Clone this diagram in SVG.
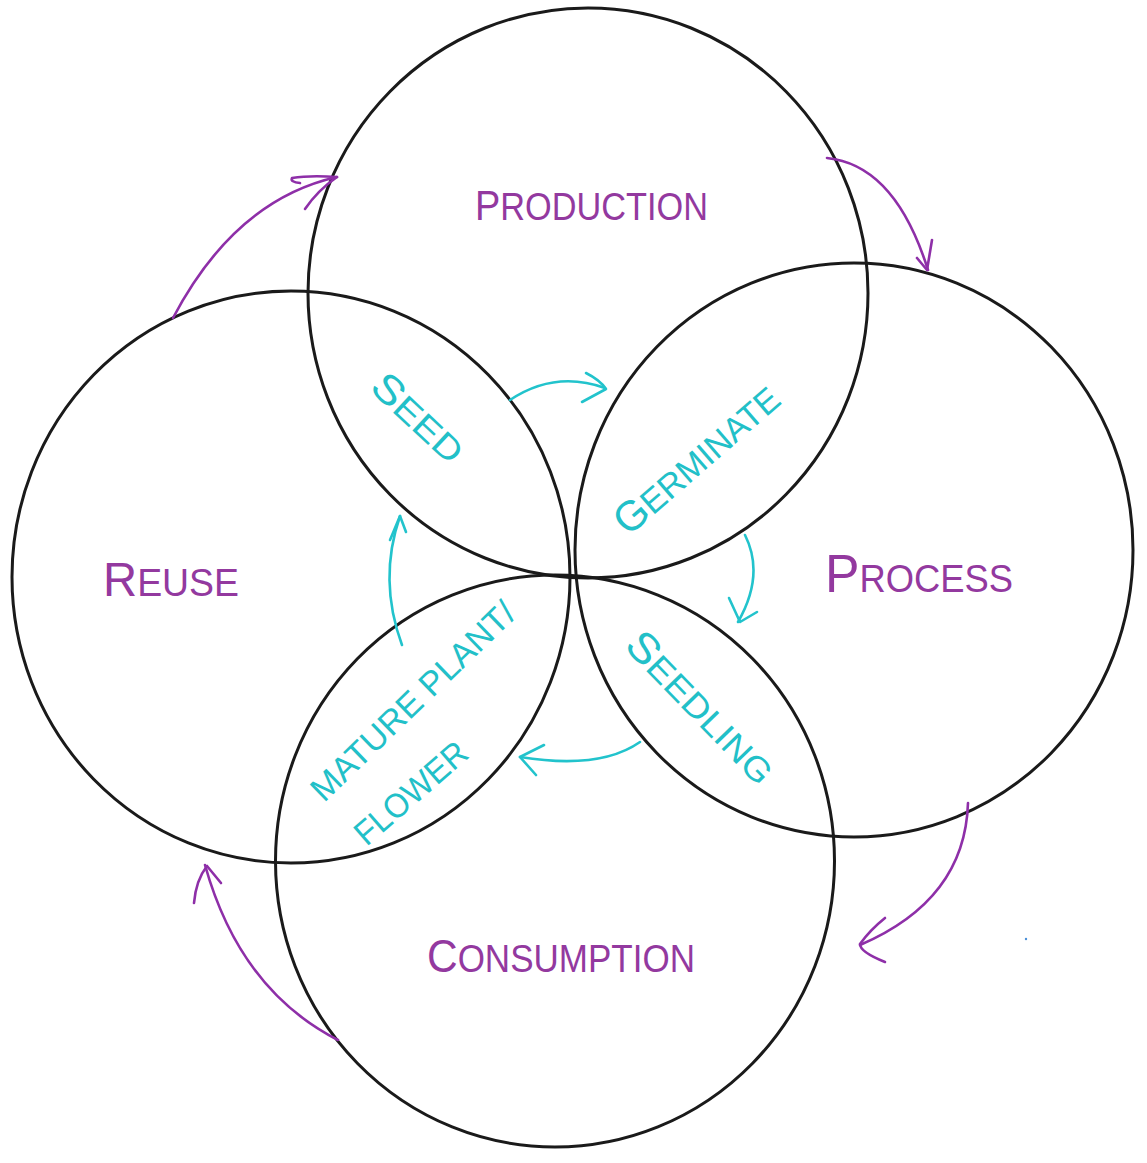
<svg xmlns="http://www.w3.org/2000/svg" width="1147" height="1163" viewBox="0 0 1147 1163">
<style>
.c{fill:none;stroke:#1a1a1a;stroke-width:3}
.pa{fill:none;stroke:#8e2fa8;stroke-width:2.6;stroke-linecap:round;stroke-linejoin:round}
.ca{fill:none;stroke:#22c3cc;stroke-width:2.6;stroke-linecap:round;stroke-linejoin:round}
.pt{fill:#93399f;font-family:"Liberation Sans",Arial,sans-serif;font-size:38px}
.ct{fill:#22c0c8;font-family:"Liberation Sans",Arial,sans-serif;font-size:34px}
</style>
<rect width="1147" height="1163" fill="#fff"/>
<g id="production"><ellipse class="c" cx="588" cy="293" rx="280" ry="285"/>
<text class="pt" x="475" y="220" textLength="233" lengthAdjust="spacingAndGlyphs"><tspan font-size="42">P</tspan>RODUCTION</text></g>
<g id="process"><ellipse class="c" cx="854" cy="550" rx="279" ry="287"/>
<text class="pt" x="825" y="592" textLength="188" lengthAdjust="spacingAndGlyphs"><tspan font-size="54">P</tspan>ROCESS</text></g>
<g id="reuse"><ellipse class="c" cx="291" cy="577" rx="279" ry="286"/>
<text class="pt" x="103" y="596" textLength="136" lengthAdjust="spacingAndGlyphs"><tspan font-size="48">R</tspan>EUSE</text></g>
<g id="consumption"><ellipse class="c" cx="555" cy="861" rx="279.5" ry="286"/>
<text class="pt" x="427" y="972" textLength="268" lengthAdjust="spacingAndGlyphs"><tspan font-size="46">C</tspan>ONSUMPTION</text></g>
<g id="seed"><text class="ct" transform="translate(418,418) rotate(43)" text-anchor="middle" y="13" textLength="112" lengthAdjust="spacingAndGlyphs"><tspan font-size="40">S</tspan>EED</text></g>
<g id="germinate"><text class="ct" transform="translate(697,460) rotate(-41)" text-anchor="middle" y="13" textLength="205" lengthAdjust="spacingAndGlyphs"><tspan font-size="42">G</tspan>ERMINATE</text></g>
<g id="seedling"><text class="ct" transform="translate(700,708) rotate(46)" text-anchor="middle" y="13" textLength="195" lengthAdjust="spacingAndGlyphs"><tspan font-size="42">S</tspan>EEDLING</text></g>
<g id="mature"><text class="ct" transform="translate(412,700) rotate(-44)" text-anchor="middle" y="13" textLength="270" lengthAdjust="spacingAndGlyphs">MATURE PLANT/</text>
<text class="ct" transform="translate(410,792) rotate(-41)" text-anchor="middle" y="13" textLength="138" lengthAdjust="spacingAndGlyphs">FLOWER</text></g>
<g id="connectors">
<path class="pa" d="M173,318 Q235,200 337,177"/>
<path class="pa" d="M305,209 Q318,190 337,177 Q310,175 292,178 Q290,182 300,183"/>
<path class="pa" d="M827,158 Q895,165 928,270"/>
<path class="pa" d="M917,258 L927,270 L932,240"/>
<path class="pa" d="M968,803 Q965,900 860,945"/>
<path class="pa" d="M885,918 Q870,930 860,944 Q860,952 885,962"/>
<path class="pa" d="M338,1040 Q240,990 205,865"/>
<path class="pa" d="M221,883 L207,866 Q196,880 194,903"/>
<path class="ca" d="M510,400 Q555,370 605,388"/>
<path class="ca" d="M586,373 Q600,380 606,389 Q595,395 582,402"/>
<path class="ca" d="M745,535 Q765,575 738,622"/>
<path class="ca" d="M729,598 L740,622 L757,612"/>
<path class="ca" d="M640,742 Q600,770 520,757"/>
<path class="ca" d="M544,745 L520,757 L536,775"/>
<path class="ca" d="M402,645 Q378,580 400,516"/>
<path class="ca" d="M390,540 L400,516 L406,532"/>
</g>
<circle cx="1026" cy="939" r="1.2" fill="#4a90d9"/>
</svg>
